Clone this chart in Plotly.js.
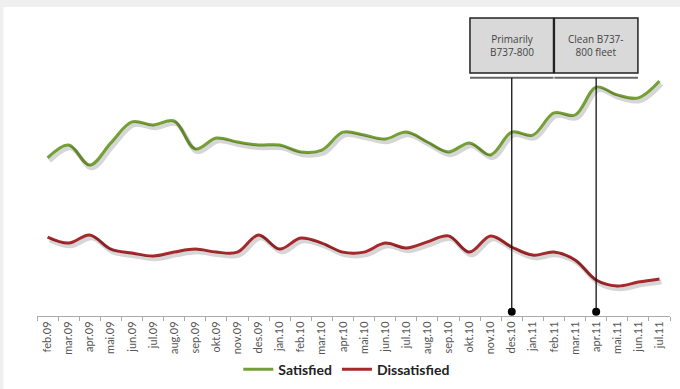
<!DOCTYPE html>
<html>
<head>
<meta charset="utf-8">
<script src="https://cdn.plot.ly/plotly-3.0.1.min.js"></script>
<style>html,body{margin:0;padding:0;background:#fff}#chart{width:680px;height:389px}</style>
</head>
<body>
<div id="chart"></div>
<script>
const months = ['feb.09','mar.09','apr.09','mai.09','jun.09','jul.09','aug.09','sep.09','okt.09','nov.09','des.09','jan.10','feb.10','mar.10','apr.10','mai.10','jun.10','jul.10','aug.10','sep.10','okt.10','nov.10','des.10','jan.11','feb.11','mar.11','apr.11','mai.11','jun.11','jul.11'];
const satisfied = [52.7,57.0,50.3,57.7,64.7,63.7,65.0,55.7,59.3,58.0,57.0,57.0,54.7,55.3,61.3,60.3,59.0,61.3,58.0,54.7,57.7,53.7,61.3,60.3,67.7,67.0,76.3,73.7,72.7,78.3];
const dissatisfied = [26.3,24.3,27.0,22.3,21.0,20.0,21.3,22.3,21.3,21.3,27.0,22.3,26.0,24.3,21.3,21.3,24.3,22.7,24.7,26.7,21.3,26.7,23.0,20.3,21.3,18.7,12.0,10.0,11.3,12.3];
const eventMonths = ['des.10','apr.11'];
const eventLabels = ['Primarily<br>B737-800','Clean B737-<br>800 fleet'];

const shadowStyle = {color: 'rgba(0,0,0,0.16)', width: 4.5, shape: 'spline', smoothing: 1};
const traces = [
  {x: months, y: satisfied, type: 'scatter', mode: 'lines', xaxis: 'x2', yaxis: 'y2',
   line: shadowStyle, showlegend: false, hoverinfo: 'skip'},
  {x: months, y: dissatisfied, type: 'scatter', mode: 'lines', xaxis: 'x2', yaxis: 'y2',
   line: shadowStyle, showlegend: false, hoverinfo: 'skip'},
  {x: months, y: satisfied, name: 'Satisfied', type: 'scatter', mode: 'lines',
   line: {color: '#74a035', width: 3, shape: 'spline', smoothing: 1}},
  {x: months, y: dissatisfied, name: 'Dissatisfied', type: 'scatter', mode: 'lines',
   line: {color: '#a8292c', width: 3, shape: 'spline', smoothing: 1}},
  {x: eventMonths, y: eventMonths.map(() => 1.4), type: 'scatter', mode: 'markers',
   marker: {color: '#000', size: 8}, showlegend: false, cliponaxis: false, hoverinfo: 'skip'}
];

const shapes = [
  {type: 'rect', xref: 'paper', yref: 'paper', x0: -0.06, x1: 1.02, y0: 1.03, y1: 1.06, fillcolor: '#efefef', line: {width: 0}, layer: 'below'},
  {type: 'rect', xref: 'paper', yref: 'paper', x0: -0.06, x1: -0.053, y0: -0.3, y1: 1.06, fillcolor: '#efefef', line: {width: 0}, layer: 'below'}
];
const annotations = [];
eventMonths.forEach((m, i) => {
  const c = months.indexOf(m);
  shapes.push({type: 'rect', xref: 'x', yref: 'y', x0: c - 1.98, x1: c + 1.98, y0: 81, y1: 99.3,
    fillcolor: '#d9d9d9', line: {color: '#222', width: 1.5}});
  shapes.push({type: 'line', xref: 'x', yref: 'y', x0: c - 1.98, x1: c + 1.98, y0: 79.4, y1: 79.4,
    line: {color: '#666', width: 2}});
  shapes.push({type: 'line', xref: 'x', yref: 'y', x0: c, x1: c, y0: 79.4, y1: 1.4,
    line: {color: '#111', width: 1.3}});
  annotations.push({x: c, y: 90.2, xref: 'x', yref: 'y', text: eventLabels[i], showarrow: false,
    font: {family: 'Open Sans, Lato, sans-serif', size: 10, color: '#444'}});
});

const layout = {
  width: 680, height: 389,
  margin: {l: 37, r: 10, t: 16, b: 73, autoexpand: false},
  paper_bgcolor: '#fff', plot_bgcolor: '#fff',
  showlegend: true,
  legend: {orientation: 'h', x: 0.51, xanchor: 'center', xref: 'container', yref: 'container', y: 0.05, yanchor: 'middle',
    font: {family: 'Lato, Open Sans, sans-serif', size: 14, color: '#222', weight: 'bold'},
    itemwidth: 30, tracegroupgap: 0},
  xaxis: {type: 'category', categoryorder: 'array', categoryarray: months, range: [-0.5, 29.5],
    tickangle: -90, tickson: 'boundaries', ticks: 'outside', ticklen: 4, tickcolor: '#aaa',
    showline: true, linecolor: '#aaa', linewidth: 1, showgrid: false, zeroline: false, automargin: false,
    tickfont: {family: 'Lato, Open Sans, sans-serif', size: 11, color: '#555'}},
  yaxis: {visible: false, range: [0, 100], showgrid: false, zeroline: false, fixedrange: true},
  xaxis2: {type: 'category', categoryorder: 'array', categoryarray: months, range: [-0.6, 29.4],
    overlaying: 'x', visible: false, showgrid: false, zeroline: false},
  yaxis2: {range: [1, 101], overlaying: 'y', visible: false, showgrid: false, zeroline: false},
  shapes: shapes,
  annotations: annotations
};

Plotly.newPlot('chart', traces, layout, {displayModeBar: false, staticPlot: true});
</script>
</body>
</html>
